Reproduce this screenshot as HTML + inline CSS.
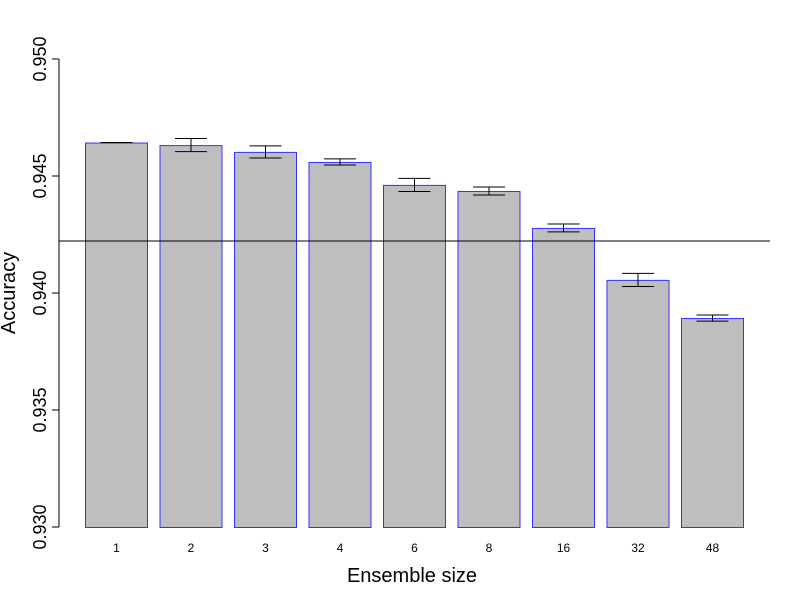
<!DOCTYPE html>
<html><head><meta charset="utf-8"><style>body{margin:0;background:#fff}svg{display:block;font-family:"Liberation Sans",sans-serif}</style></head>
<body>
<svg id="chart" width="800" height="600">
<g id="axis"></g>
<g id="bars"></g>
<text x="412" y="582" font-size="20" text-anchor="middle">Ensemble size</text>
<text transform="translate(15,293) rotate(-90)" font-size="20" text-anchor="middle">Accuracy</text>
</svg>
<script>
const categories=["1","2","3","4","6","8","16","32","48"];
const accuracy=[0.94643,0.94632,0.94603,0.94560,0.94462,0.94436,0.94278,0.94056,0.93893];
const errors=[0,0.00028,0.00026,0.00013,0.00028,0.00017,0.00017,0.00028,0.00013];
const baseline=0.94222;
const yTicks=[0.930,0.935,0.940,0.945,0.950];
const yTickLabels=["0.930","0.935","0.940","0.945","0.950"];
const NS="http://www.w3.org/2000/svg";
const y=v=>527-(v-0.930)/0.020*468;
const xL=i=>85+i*74.5;
function mk(t,a,p){const e=document.createElementNS(NS,t);for(const k in a)e.setAttribute(k,a[k]);p.appendChild(e);return e;}
const ax=document.getElementById('axis'),bg=document.getElementById('bars');
mk('line',{x1:59,x2:59,y1:y(0.930),y2:y(0.950),stroke:'#000'},ax);
yTicks.forEach((t,i)=>{
 const l=mk('line',{x1:52,x2:59,y1:y(t),y2:y(t),stroke:'#000'},ax);
 
 
 const tx=mk('text',{transform:`translate(46,${y(t)}) rotate(-90)`,'font-size':18,'text-anchor':'middle'},ax);
 tx.textContent=yTickLabels[i];
 
 
});
categories.forEach((c,i)=>{
 const x0=xL(i),w=62,top=y(accuracy[i]);
 const r=mk('rect',{x:x0+0.5,y:top+0.5,width:w,height:527-top,fill:'#bebebe',stroke:'#3333ff','stroke-width':1},bg);
 
 
 const cx=x0+31.5,hi=y(accuracy[i]+errors[i]),lo=y(accuracy[i]-errors[i]);
 const g=mk('g',{stroke:'#000','stroke-width':1},bg);
 
 
 mk('line',{x1:cx,x2:cx,y1:hi,y2:lo},g);
 mk('line',{x1:cx-16,x2:cx+16,y1:hi,y2:hi},g);
 mk('line',{x1:cx-16,x2:cx+16,y1:lo,y2:lo},g);
 const t=mk('text',{x:cx,y:552,'font-size':12,'text-anchor':'middle'},bg);
 t.textContent=c;
 
 
});
const bl=mk('line',{x1:59,x2:770,y1:y(baseline),y2:y(baseline),stroke:'#000','stroke-width':1},bg);


</script>
</body></html>
